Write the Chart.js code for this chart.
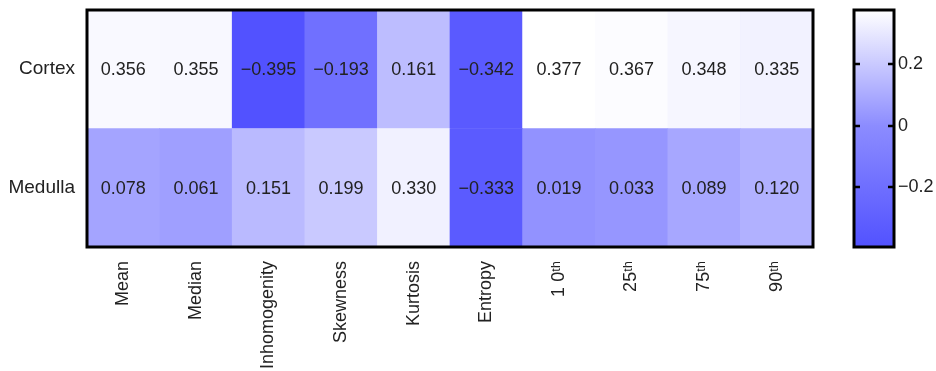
<!DOCTYPE html>
<html>
<head>
<meta charset="utf-8">
<script src="https://cdn.jsdelivr.net/npm/chart.js@4"></script>
<style>
  body { margin: 0; background: #fff; }
  #wrap { position: relative; width: 936px; height: 371px; }
  #heat { position: absolute; left: 0; top: 0; }
  #bar { position: absolute; left: 830px; top: 0; }
</style>
</head>
<body>
<div id="wrap">
  <canvas id="heat" width="830" height="371"></canvas>
  <canvas id="bar" width="106" height="371"></canvas>
</div>
<script>
const features = ['Mean', 'Median', 'Inhomogenity', 'Skewness', 'Kurtosis', 'Entropy', '1 0\u1d57\u02b0', '25\u1d57\u02b0', '75\u1d57\u02b0', '90\u1d57\u02b0']
const rows = ['Cortex', 'Medulla']
const cortex = [0.356, 0.355, -0.395, -0.193, 0.161, -0.342, 0.377, 0.367, 0.348, 0.335]
const medulla = [0.078, 0.061, 0.151, 0.199, 0.330, -0.333, 0.019, 0.033, 0.089, 0.120]
const cbTicks = [-0.2, 0, 0.2]

const FONT = "'Liberation Sans', Arial, Helvetica, sans-serif"
const vmin = Math.min(...cortex, ...medulla)
const vmax = Math.max(...cortex, ...medulla)

// blue -> white colormap, kinked at zero
const lowC = 82, midC = 140
function colorFor(v) {
  let c
  if (v < 0) c = lowC + (v - vmin) / (0 - vmin) * (midC - lowC)
  else c = midC + v / vmax * (255 - midC)
  c = Math.round(c)
  return `rgb(${c},${c},255)`
}
const fmt = v => (v < 0 ? '\u2212' : '') + Math.abs(v).toFixed(3)

// drop the label padding chart.js reserves at the top/bottom of the y axis
const noVPad = s => { s.paddingTop = 0; s.paddingBottom = 0 }

const cellLabels = {
  id: 'cellLabels',
  afterDatasetsDraw(chart) {
    const ctx = chart.ctx
    ctx.save()
    ctx.font = '18px ' + FONT
    ctx.fillStyle = '#222'
    ctx.textAlign = 'center'
    ctx.textBaseline = 'middle'
    chart.data.datasets.forEach((ds, i) => {
      chart.getDatasetMeta(i).data.forEach((el, j) => {
        ctx.fillText(fmt(ds.values[j]), el.x, (el.y + el.base) / 2 + 1)
      })
    })
    ctx.restore()
  }
}

const frame = {
  id: 'frame',
  afterDraw(chart) {
    const a = chart.chartArea
    const ctx = chart.ctx
    ctx.save()
    ctx.strokeStyle = '#000'
    ctx.lineWidth = 3
    ctx.strokeRect(a.left, a.top, a.right - a.left, a.bottom - a.top)
    ctx.restore()
  }
}

new Chart(document.getElementById('heat'), {
  type: 'bar',
  data: {
    labels: features,
    datasets: [
      { label: rows[1], data: medulla.map(() => 1), values: medulla, backgroundColor: medulla.map(colorFor) },
      { label: rows[0], data: cortex.map(() => 1), values: cortex, backgroundColor: cortex.map(colorFor) }
    ]
  },
  options: {
    responsive: false,
    animation: false,
    layout: { padding: { top: 10, right: 17 } },
    datasets: { bar: { barPercentage: 1, categoryPercentage: 1, borderWidth: 0 } },
    plugins: { legend: { display: false }, tooltip: { enabled: false } },
    scales: {
      x: {
        stacked: true,
        grid: { display: false, drawTicks: false, tickLength: 0 },
        border: { display: false },
        afterFit: s => { s.height = 124 },
        ticks: {
          color: '#222', font: { size: 18, family: FONT },
          minRotation: 90, maxRotation: 90, padding: 14, autoSkip: false
        }
      },
      y: {
        stacked: true, min: 0, max: 2,
        grid: { display: false, drawTicks: false, tickLength: 0 },
        border: { display: false },
        afterFit: s => { s.width = 87; noVPad(s) },
        afterBuildTicks: s => { s.ticks = [{ value: 0.5 }, { value: 1.5 }] },
        ticks: {
          color: '#222', font: { size: 19, family: FONT }, padding: 12,
          callback: v => v < 1 ? rows[1] : rows[0]
        }
      }
    }
  },
  plugins: [cellLabels, frame]
})

const cbMarks = {
  id: 'cbMarks',
  afterDraw(chart) {
    const a = chart.chartArea
    const y = chart.scales.y
    const ctx = chart.ctx
    ctx.save()
    ctx.strokeStyle = '#000'
    ctx.lineWidth = 2.5
    cbTicks.forEach(t => {
      const py = Math.round(y.getPixelForValue(t))
      ctx.beginPath()
      ctx.moveTo(a.left, py); ctx.lineTo(a.left + 6, py)
      ctx.moveTo(a.right - 6, py); ctx.lineTo(a.right, py)
      ctx.stroke()
    })
    ctx.lineWidth = 3
    ctx.strokeRect(a.left, a.top, a.right - a.left, a.bottom - a.top)
    ctx.restore()
  }
}

new Chart(document.getElementById('bar'), {
  type: 'bar',
  data: {
    labels: ['scale'],
    datasets: [{
      data: [[vmin, vmax]],
      borderWidth: 0,
      barPercentage: 1,
      categoryPercentage: 1,
      backgroundColor: c => {
        const chart = c.chart
        if (!chart.chartArea) return colorFor(0)
        const y = chart.scales.y
        const g = chart.ctx.createLinearGradient(0, y.getPixelForValue(vmin), 0, y.getPixelForValue(vmax))
        g.addColorStop(0, colorFor(vmin))
        g.addColorStop((0 - vmin) / (vmax - vmin), colorFor(0))
        g.addColorStop(1, colorFor(vmax))
        return g
      }
    }]
  },
  options: {
    responsive: false,
    animation: false,
    layout: { padding: { top: 10, left: 24, bottom: 124 } },
    plugins: { legend: { display: false }, tooltip: { enabled: false } },
    scales: {
      x: { display: false },
      y: {
        position: 'right', min: vmin, max: vmax,
        grid: { display: false, drawTicks: false, tickLength: 0 },
        border: { display: false },
        afterFit: s => { s.width = 42; noVPad(s) },
        afterBuildTicks: s => { s.ticks = cbTicks.map(v => ({ value: v })) },
        ticks: {
          color: '#222', font: { size: 18, family: FONT }, padding: 4,
          callback: v => v === 0 ? '0' : (v < 0 ? '\u2212' : '') + Math.abs(v).toFixed(1)
        }
      }
    }
  },
  plugins: [cbMarks]
})
</script>
</body>
</html>
